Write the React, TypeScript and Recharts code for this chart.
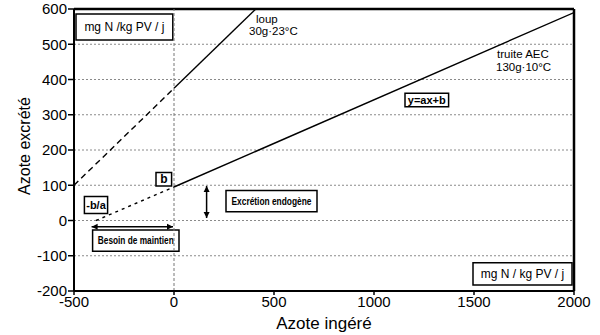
import React from 'react';
import {
  ComposedChart,
  Line,
  XAxis,
  YAxis,
  CartesianGrid,
  ReferenceLine,
  ReferenceArea,
  ReferenceDot,
  Label,
} from 'recharts';

const xTicks = [-500, 0, 500, 1000, 1500, 2000];
const yTicks = [-200, -100, 0, 100, 200, 300, 400, 500, 600];

const loupDashed = [
  { x: -500, y: 100 },
  { x: 0, y: 375 },
];
const loupSolid = [
  { x: 0, y: 375 },
  { x: 409, y: 600 },
];
const truiteDashed = [
  { x: -390, y: 0 },
  { x: 0, y: 95 },
];
const truiteSolid = [
  { x: 0, y: 95 },
  { x: 2000, y: 590 },
];

const FONT = '"Liberation Sans", Arial, Helvetica, sans-serif';

const boxLabel =
  (text: string, size: number, weight: string | number = 'normal', len?: number) =>
  (props: any) => {
    const vb = props.viewBox || {};
    const cx = vb.x + vb.width / 2;
    const cy = vb.y + vb.height / 2;
    return (
      <text
        x={cx}
        y={cy}
        textAnchor="middle"
        dominantBaseline="central"
        fontSize={size}
        fontWeight={weight}
        fontFamily={FONT}
        fill="#000"
        {...(len ? { textLength: len, lengthAdjust: 'spacingAndGlyphs' } : {})}
      >
        {text}
      </text>
    );
  };

const freeText =
  (text: string, size: number) =>
  (props: any) => (
    <text
      x={props.cx}
      y={props.cy}
      textAnchor="start"
      fontSize={size}
      fontFamily={FONT}
      fill="#000"
    >
      {text}
    </text>
  );

const arrowShape = (both: boolean) => (props: any) => {
  const { x1, y1, x2, y2 } = props;
  const dx = x2 - x1;
  const dy = y2 - y1;
  const L = Math.sqrt(dx * dx + dy * dy) || 1;
  const ux = dx / L;
  const uy = dy / L;
  const h = 6;
  const w = 3;
  const head = (tx: number, ty: number, dirx: number, diry: number) => {
    const bx = tx - dirx * h;
    const by = ty - diry * h;
    return `${tx},${ty} ${bx - diry * w},${by + dirx * w} ${bx + diry * w},${by - dirx * w}`;
  };
  return (
    <g>
      <line x1={x1} y1={y1} x2={x2} y2={y2} stroke="#000" strokeWidth={1.5} />
      <polygon points={head(x2, y2, ux, uy)} fill="#000" />
      {both && <polygon points={head(x1, y1, -ux, -uy)} fill="#000" />}
    </g>
  );
};

export default function App() {
  return (
    <div style={{ position: 'absolute', left: 0, top: 0 }}>
      <ComposedChart
        width={600}
        height={335}
        margin={{ top: 9, right: 26, bottom: 0, left: 0 }}
      >
        <CartesianGrid
          vertical={false}
          stroke="#8a8a8a"
          strokeDasharray="2 2"
        />
        <XAxis
          type="number"
          dataKey="x"
          domain={[-500, 2000]}
          ticks={xTicks}
          allowDataOverflow
          height={44}
          tickSize={4}
          tickMargin={1}
          tick={{ fontSize: 15, fill: '#000', fontFamily: FONT }}
          axisLine={{ stroke: '#000', strokeWidth: 2 }}
          tickLine={{ stroke: '#000', strokeWidth: 1.5 }}
        >
          <Label
            content={(p: any) => {
              const vb = p.viewBox || {};
              return (
                <text
                  x={vb.x + vb.width / 2}
                  y={vb.y + vb.height - 6}
                  textAnchor="middle"
                  fontSize={17}
                  fontFamily={FONT}
                  fill="#000"
                >
                  Azote ingéré
                </text>
              );
            }}
          />
        </XAxis>
        <YAxis
          type="number"
          domain={[-200, 600]}
          ticks={yTicks}
          allowDataOverflow
          width={74}
          tickSize={6}
          tickMargin={1}
          tick={{ fontSize: 15, fill: '#000', fontFamily: FONT }}
          axisLine={{ stroke: '#000', strokeWidth: 2 }}
          tickLine={{ stroke: '#000', strokeWidth: 1.5 }}
        >
          <Label
            content={(p: any) => {
              const vb = p.viewBox || {};
              const x = vb.x + 30;
              const y = vb.y + vb.height / 2 - 4;
              return (
                <text
                  x={x}
                  y={y}
                  transform={`rotate(-90, ${x}, ${y})`}
                  textAnchor="middle"
                  fontSize={16}
                  fontFamily={FONT}
                  fill="#000"
                >
                  Azote excrété
                </text>
              );
            }}
          />
        </YAxis>

        <ReferenceLine y={600} stroke="#000" strokeWidth={2.5} />
        <ReferenceLine x={2000} stroke="#000" strokeWidth={2.5} />

        <Line
          data={loupDashed}
          dataKey="y"
          stroke="#000"
          strokeWidth={1.4}
          strokeDasharray="6 4"
          dot={false}
          isAnimationActive={false}
        />
        <Line
          data={loupSolid}
          dataKey="y"
          stroke="#000"
          strokeWidth={1.4}
          dot={false}
          isAnimationActive={false}
        />
        <Line
          data={truiteDashed}
          dataKey="y"
          stroke="#000"
          strokeWidth={1.4}
          strokeDasharray="3 4"
          dot={false}
          isAnimationActive={false}
        />
        <Line
          data={truiteSolid}
          dataKey="y"
          stroke="#000"
          strokeWidth={1.4}
          dot={false}
          isAnimationActive={false}
        />

        <ReferenceArea
          x1={-490}
          x2={-6}
          y1={512}
          y2={586}
          fill="#fff"
          fillOpacity={1}
          stroke="#000"
          strokeWidth={1.5}
          label={boxLabel('mg N /kg PV / j', 12)}
        />
        <ReferenceArea
          x1={1495}
          x2={1990}
          y1={-183}
          y2={-120}
          fill="#fff"
          fillOpacity={1}
          stroke="#000"
          strokeWidth={1.5}
          label={boxLabel('mg N / kg PV / j', 12)}
        />
        <ReferenceArea
          x1={1155}
          x2={1373}
          y1={323}
          y2={361}
          fill="#fff"
          fillOpacity={1}
          stroke="#000"
          strokeWidth={1.5}
          label={boxLabel('y=ax+b', 11, 'bold', 38)}
        />
        <ReferenceArea
          x1={-90}
          x2={-12}
          y1={98}
          y2={136}
          fill="#fff"
          fillOpacity={1}
          stroke="#000"
          strokeWidth={1.5}
          label={boxLabel('b', 12, 'bold')}
        />
        <ReferenceArea
          x1={-448}
          x2={-332}
          y1={20}
          y2={68}
          fill="#fff"
          fillOpacity={1}
          stroke="#000"
          strokeWidth={1.5}
          label={boxLabel('-b/a', 11, 'bold')}
        />
        <ReferenceArea
          x1={-407}
          x2={25}
          y1={-87}
          y2={-27}
          fill="#fff"
          fillOpacity={1}
          stroke="#000"
          strokeWidth={1.5}
          label={boxLabel('Besoin de maintien', 10, 'bold', 76)}
        />
        <ReferenceArea
          x1={260}
          x2={715}
          y1={25}
          y2={85}
          fill="#fff"
          fillOpacity={1}
          stroke="#000"
          strokeWidth={1.5}
          label={boxLabel('Excrétion endogène', 10, 'bold', 80)}
        />

        <ReferenceLine x={0} stroke="#777" strokeDasharray="3 2" strokeWidth={1} />

        <ReferenceLine
          segment={[
            { x: -412, y: -18 },
            { x: -5, y: -18 },
          ]}
          shape={arrowShape(true)}
        />
        <ReferenceLine
          segment={[
            { x: 163, y: 98 },
            { x: 163, y: 7 },
          ]}
          shape={arrowShape(true)}
        />

        <ReferenceDot x={410} y={560} r={0} shape={freeText('loup', 11.5)} />
        <ReferenceDot x={375} y={526} r={0} shape={freeText('30g·23°C', 11.5)} />
        <ReferenceDot x={1615} y={461} r={0} shape={freeText('truite AEC', 11.5)} />
        <ReferenceDot x={1610} y={424} r={0} shape={freeText('130g·10°C', 11.5)} />
      </ComposedChart>
    </div>
  );
}
